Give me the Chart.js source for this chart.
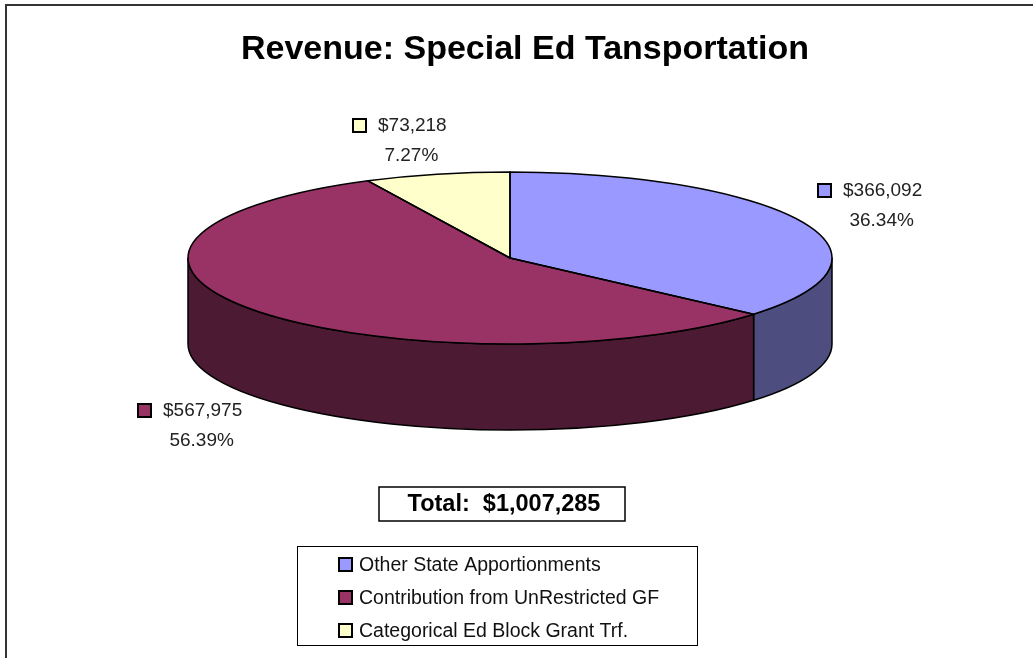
<!DOCTYPE html>
<html>
<head>
<meta charset="utf-8">
<script src="https://cdn.jsdelivr.net/npm/chart.js@4/dist/chart.umd.min.js"></script>
<style>
  html, body { margin: 0; padding: 0; background: #fff; }
  canvas { display: block; }
</style>
</head>
<body>
<canvas id="chart" width="1033" height="658"></canvas>
<script>
const categories = [
    "Other State Apportionments",
    "Contribution from UnRestricted GF",
    "Categorical Ed Block Grant Trf.",
];
const amounts = [366092, 567975, 73218];
const topColors = ["#9999FF", "#993366", "#FFFFCC"];
const sideColors = ["#4D4D80", "#4D1A33", "#808066"];

const titleText = "Revenue: Special Ed Tansportation";
// where each slice label block sits: [left of swatch, middle of first line]
const labelSpots = [[817, 190], [137, 410], [352, 125]];

const FONT = "'Liberation Sans', Arial, sans-serif";
const TILT = 0.267; // ry / rx of the pie top

const money = (v) => "$" + v.toLocaleString("en-US");

// split a slice's angle range into the parts that face the viewer (lower half)
const frontParts = (s, e) => {
    const parts = [];
    [-2, 0, 2].forEach((k) => {
        const a = Math.max(s, k * Math.PI);
        const b = Math.min(e, (k + 1) * Math.PI);
        if (b > a) parts.push([a, b]);
    });
    return parts;
};

const geom = (chart) => {
    const area = chart.chartArea;
    const rx = (area.right - area.left) / 2;
    const ry = rx * TILT;
    return {
        cx: (area.left + area.right) / 2,
        cy: area.top + ry,
        rx,
        ry,
        depth: area.bottom - area.top - 2 * ry,
    };
};

const pie3d = {
    id: "pie3d",
    beforeDatasetsDraw(chart) {
        const ctx = chart.ctx;
        const g = geom(chart);
        const arcs = chart.getDatasetMeta(0).data;

        // side walls
        ctx.save();
        ctx.lineWidth = 1.5;
        ctx.strokeStyle = "#000";
        ctx.lineJoin = "round";
        arcs.forEach((arc, i) => {
            frontParts(arc.startAngle, arc.endAngle).forEach(([a, b]) => {
                ctx.beginPath();
                ctx.ellipse(g.cx, g.cy, g.rx, g.ry, 0, a, b, false);
                ctx.lineTo(g.cx + g.rx * Math.cos(b), g.cy + g.ry * Math.sin(b) + g.depth);
                ctx.ellipse(g.cx, g.cy + g.depth, g.rx, g.ry, 0, b, a, true);
                ctx.closePath();
                ctx.fillStyle = sideColors[i];
                ctx.fill();
                ctx.stroke();
            });
        });
        ctx.restore();

        // squash the library's round pie onto the ellipse
        const first = arcs[0];
        const R = first.outerRadius;
        ctx.save();
        ctx.translate(g.cx, g.cy);
        ctx.scale(g.rx / R, g.ry / R);
        ctx.translate(-first.x, -first.y);
    },
    afterDatasetsDraw(chart) {
        const ctx = chart.ctx;
        ctx.restore();
        const g = geom(chart);
        const arcs = chart.getDatasetMeta(0).data;

        ctx.save();
        ctx.lineWidth = 1.5;
        ctx.strokeStyle = "#000";
        ctx.lineJoin = "round";
        arcs.forEach((arc) => {
            ctx.beginPath();
            ctx.moveTo(g.cx, g.cy);
            ctx.ellipse(g.cx, g.cy, g.rx, g.ry, 0, arc.startAngle, arc.endAngle, false);
            ctx.closePath();
            ctx.stroke();
        });
        ctx.restore();
    },
    afterDraw(chart) {
        const ctx = chart.ctx;
        const total = amounts.reduce((a, b) => a + b, 0);
        ctx.save();

        // frame
        ctx.strokeStyle = "#333";
        ctx.lineWidth = 2;
        ctx.beginPath();
        ctx.moveTo(6, 658);
        ctx.lineTo(6, 5);
        ctx.lineTo(1033, 5);
        ctx.stroke();

        // title
        ctx.fillStyle = "#000";
        ctx.textAlign = "center";
        ctx.textBaseline = "middle";
        ctx.font = "bold 34px " + FONT;
        ctx.fillText(titleText, 525, 50);

        // slice labels
        ctx.font = "19px " + FONT;
        amounts.forEach((v, i) => {
            const [x, y] = labelSpots[i];
            ctx.fillStyle = topColors[i];
            ctx.fillRect(x + 1, y - 6, 13, 13);
            ctx.lineWidth = 2;
            ctx.strokeStyle = "#000";
            ctx.strokeRect(x + 1, y - 6, 13, 13);
            ctx.fillStyle = "#222";
            ctx.textAlign = "left";
            const t1 = money(v);
            ctx.fillText(t1, x + 26, y + 1);
            const w = ctx.measureText(t1).width;
            ctx.textAlign = "center";
            const pct = ((v / total) * 100).toFixed(2) + "%";
            ctx.fillText(pct, x + 26 + w / 2 - 1, y + 31);
        });

        // total box
        ctx.lineWidth = 1.5;
        ctx.strokeStyle = "#000";
        ctx.fillStyle = "#fff";
        ctx.fillRect(379, 487, 246, 34);
        ctx.strokeRect(379, 487, 246, 34);
        ctx.fillStyle = "#000";
        ctx.textAlign = "center";
        ctx.font = "bold 23.5px " + FONT;
        ctx.fillText("Total:  " + money(total), 504, 505);

        // legend
        ctx.lineWidth = 1;
        ctx.strokeRect(297.5, 546.5, 400, 99);
        ctx.font = "19.5px " + FONT;
        ctx.textAlign = "left";
        categories.forEach((c, i) => {
            const y = 565 + i * 33;
            ctx.fillStyle = topColors[i];
            ctx.fillRect(339, y - 7, 13, 13);
            ctx.lineWidth = 2;
            ctx.strokeRect(339, y - 7, 13, 13);
            ctx.fillStyle = "#111";
            ctx.fillText(c, 359, y + 1);
        });
        ctx.restore();
    },
};

new Chart(document.getElementById("chart"), {
    type: "pie",
    data: {
        labels: categories,
        datasets: [
            {
                data: amounts,
                backgroundColor: topColors,
                borderWidth: 0,
                hoverOffset: 0,
                clip: false,
            },
        ],
    },
    options: {
        responsive: false,
        animation: false,
        events: [],
        layout: { padding: { left: 188, right: 201, top: 172, bottom: 228 } },
        plugins: {
            legend: { display: false },
            tooltip: { enabled: false },
            title: { display: false },
        },
    },
    plugins: [pie3d],
});
</script>
</body>
</html>
